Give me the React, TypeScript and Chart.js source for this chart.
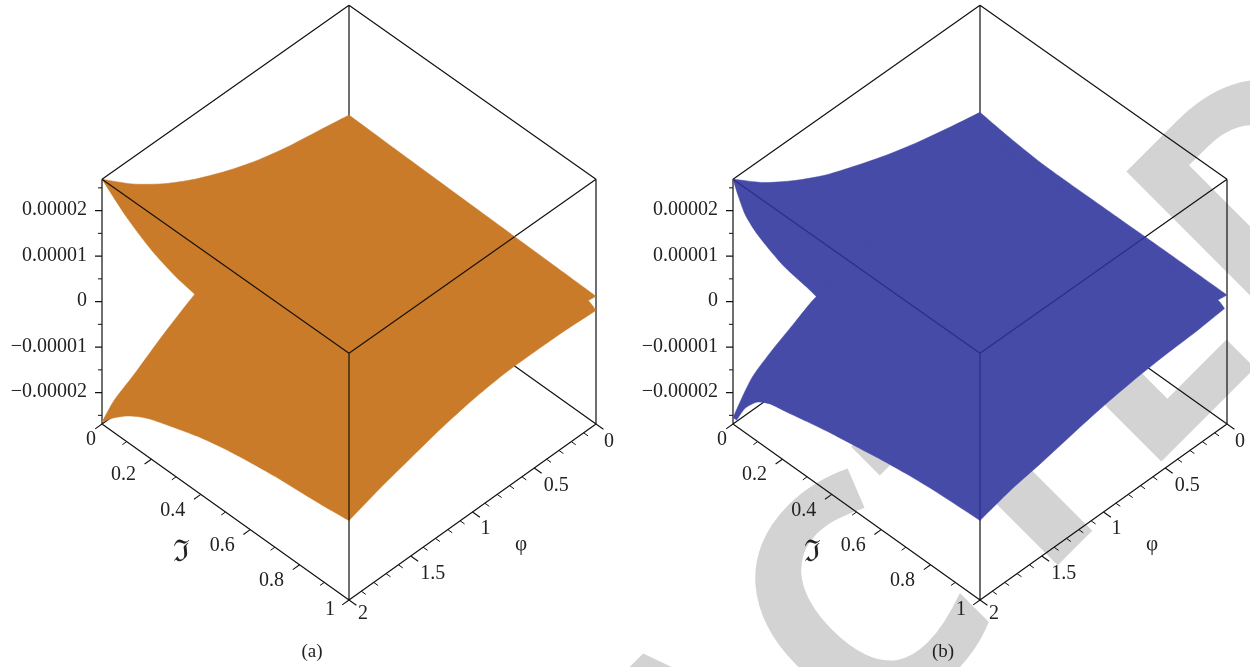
import React, { useEffect, useRef } from "react";
import { Chart, registerables } from "chart.js";

Chart.register(...registerables);

// All surface heights are in units of 1e-5. Pairs are [parameter, height].
const zTop = 2.69;
const zBottom = -2.69;
const zMajorTicks = [-2, -1, 0, 1, 2];
const zMinorTicks = [-2.5, -1.5, -0.5, 0.5, 1.5, 2.5];
const zTickLabels = ["\u22120.00002", "\u22120.00001", "0", "0.00001", "0.00002"];
const iTicks = [0, 0.1, 0.2, 0.3, 0.4, 0.5, 0.6, 0.7, 0.8, 0.9, 1];
const iLabels = [["0", 0], ["0.2", 0.2], ["0.4", 0.4], ["0.6", 0.6], ["0.8", 0.8], ["1", 1]] as [string, number][];
const phiTicks = [0, 0.1, 0.2, 0.3, 0.4, 0.5, 0.6, 0.7, 0.8, 0.9, 1, 1.1, 1.2, 1.3, 1.4, 1.5, 1.6, 1.7, 1.8, 1.9, 2];
const phiLabels = [["0", 0], ["0.5", 0.5], ["1", 1], ["1.5", 1.5], ["2", 2]] as [string, number][];

// Panel (a): edges of the upper and the lower sheet
const aUpperAtI0 = [[2, 2.69], [1.75, 2.106], [1.5, 1.633], [1.25, 1.25], [1, 0.944], [0.75, 0.696], [0.5, 0.516], [0.25, 0.387], [0, 0.256]];
const aUpperAtPhi0 = [[0, 0.256], [0.25, 0.216], [0.5, 0.183], [0.75, 0.15], [1, 0.117]];
const aUpperAtPhi2 = [[1, 0.957], [0.75, 1.1], [0.5, 1.35], [0.376, 1.598], [0.3, 1.69], [0.2, 1.9], [0.1, 2.235], [0, 2.69]];
const aLowerAtPhi0 = [[0, -0.1], [0.97, -0.103], [1, -0.195]];
const aLowerAtI1 = [[0, -0.195], [0.25, -0.154], [0.5, -0.146], [0.75, -0.159], [1, -0.238], [1.25, -0.372], [1.5, -0.549], [1.75, -0.737], [2, -0.957]];
const aLowerAtPhi2 = [[1, -0.957], [0.9, -1.032], [0.8, -1.089], [0.7, -1.142], [0.6, -1.22], [0.5, -1.317], [0.4, -1.448], [0.3, -1.627], [0.2, -1.819], [0.15, -1.952], [0.1, -2.128], [0.05, -2.36], [0, -2.646]];
const aLowerAtI0 = [[2, -2.646], [1.9, -2.356], [1.75, -2.118], [1.5, -1.677], [1.25, -1.29], [1, -1.0], [0.75, -0.75], [0.5, -0.5], [0.25, -0.3], [0, -0.1]];

// Panel (b)
const bUpperAtI0 = [[2, 2.69], [1.75, 2.139], [1.5, 1.703], [1.25, 1.344], [1, 1.072], [0.75, 0.827], [0.5, 0.626], [0.25, 0.462], [0, 0.316]];
const bUpperAtPhi0 = [[0, 0.316], [0.1, 0.234], [0.25, 0.151], [0.5, 0.145], [0.75, 0.151], [1, 0.145]];
const bUpperAtPhi2 = [[1, 0.956], [0.75, 1.1], [0.5, 1.25], [0.35, 1.389], [0.3, 1.459], [0.2, 1.578], [0.1, 1.851], [0.05, 2.097], [0.02, 2.42], [0, 2.69]];
const bLowerAtPhi0 = [[0, -0.12], [0.965, -0.112], [0.99, -0.19]];
const bLowerAtI1 = [[0.02, -0.112], [0.25, -0.176], [0.5, -0.211], [0.75, -0.273], [1, -0.37], [1.25, -0.503], [1.5, -0.647], [1.75, -0.769], [2, -0.956]];
const bLowerAtPhi2 = [[1, -0.956], [0.9, -0.985], [0.8, -1.02], [0.7, -1.08], [0.6, -1.16], [0.5, -1.26], [0.4, -1.36], [0.3, -1.48], [0.2, -1.609], [0.15, -1.67], [0.1, -1.82], [0.05, -2.145], [0.015, -2.545]];
const bLowerAtI0 = [[2, -2.545], [1.85, -1.978], [1.7, -1.706], [1.5, -1.422], [1.35, -1.215], [1, -0.9], [0.75, -0.65], [0.5, -0.45], [0.25, -0.28], [0, -0.12]];

type Pt = { x: number; y: number };
const BREAK: Pt = { x: NaN, y: NaN };

const makeProjector = (cx: number) => (i: number, phi: number, z: number): Pt => ({
  x: cx + 247 * i - 123.5 * phi,
  y: 248 + 176 * i + 88 * phi - (z - zBottom) * 45.5 * (1 + 0.008 * (i + phi / 2 - 1)),
});

const panels = [
  {
    cx: 349, fill: "#C97B29", inner: "#1a1208", caption: "(a)",
    up: { i0: aUpperAtI0, p0: aUpperAtPhi0, p2: aUpperAtPhi2 },
    lo: { i0: aLowerAtI0, p0: aLowerAtPhi0, i1: aLowerAtI1, p2: aLowerAtPhi2 },
  },
  {
    cx: 980, fill: "#454BA7", inner: "#2F2A8C", caption: "(b)",
    up: { i0: bUpperAtI0, p0: bUpperAtPhi0, p2: bUpperAtPhi2 },
    lo: { i0: bLowerAtI0, p0: bLowerAtPhi0, i1: bLowerAtI1, p2: bLowerAtPhi2 },
  },
];

const lineDs = (data: Pt[], color: string, width: number) => ({
  data, borderColor: color, borderWidth: width, showLine: true, pointRadius: 0, fill: false, spanGaps: false,
});

// Repeats the end points of each edge so the smoothing keeps the sheet's corners sharp.
const joinEdges = (...edges: Pt[][]) =>
  edges.flatMap((e) => [e[0], ...e, e[e.length - 1]]);

function buildDatasets() {
  const back: any[] = [];
  const surfaces: any[] = [];
  const front: any[] = [];
  for (const pn of panels) {
    const P = makeProjector(pn.cx);
    const boxEdges: [number[], number[]][] = [
      [[0, 2, zTop], [0, 0, zTop]], [[0, 0, zTop], [1, 0, zTop]],
      [[0, 2, zTop], [1, 2, zTop]], [[1, 2, zTop], [1, 0, zTop]],
      [[0, 2, zTop], [0, 2, zBottom]], [[1, 0, zTop], [1, 0, zBottom]],
      [[1, 2, zTop], [1, 2, zBottom]], [[0, 0, zTop], [0, 0, zBottom]],
      [[0, 2, zBottom], [1, 2, zBottom]], [[1, 2, zBottom], [1, 0, zBottom]],
      [[0, 0, zBottom], [0, 2, zBottom]], [[0, 0, zBottom], [1, 0, zBottom]],
    ];
    const box: Pt[] = [];
    for (const [a, b] of boxEdges) box.push(P(a[0], a[1], a[2]), P(b[0], b[1], b[2]), BREAK);
    back.push(lineDs(box, "#111111", 1.2));

    const ticks: Pt[] = [];
    const minor: Pt[] = [];
    for (const t of iTicks) {
      const major = Math.round(t * 10) % 2 === 0;
      (major ? ticks : minor).push(P(t, 2, zBottom), P(t, major ? 2.055 : 2.035, zBottom), BREAK);
    }
    for (const t of phiTicks) {
      const major = Math.round(t * 10) % 5 === 0;
      (major ? ticks : minor).push(P(1, t, zBottom), P(major ? 1.03 : 1.018, t, zBottom), BREAK);
    }
    for (const z of zMajorTicks) {
      const a = P(0, 2, z);
      ticks.push(a, { x: a.x - 7, y: a.y }, BREAK);
    }
    for (const z of zMinorTicks) {
      const a = P(0, 2, z);
      minor.push(a, { x: a.x - 4, y: a.y }, BREAK);
    }
    back.push(lineDs(ticks, "#111111", 1.1), lineDs(minor, "#111111", 1));

    const toPts = {
      i0: (a: number[][]) => a.map(([phi, z]) => P(0, phi, z)),
      p0: (a: number[][]) => a.map(([i, z]) => P(i, 0, z)),
      p2: (a: number[][]) => a.map(([i, z]) => P(i, 2, z)),
      i1: (a: number[][]) => a.map(([phi, z]) => P(1, phi, z)),
    };
    const upper = joinEdges(toPts.i0(pn.up.i0), toPts.p0(pn.up.p0), toPts.p2(pn.up.p2));
    const lower = joinEdges(toPts.p0(pn.lo.p0), toPts.i1(pn.lo.i1), toPts.p2(pn.lo.p2), toPts.i0(pn.lo.i0));
    for (const shape of [upper, lower]) {
      surfaces.push({
        data: shape, showLine: true, pointRadius: 0, borderColor: pn.fill, borderWidth: 0.5,
        backgroundColor: pn.fill, fill: "shape", tension: 0.25,
      });
    }
    const lastLo = pn.lo.i1[pn.lo.i1.length - 1][1];
    front.push(
      lineDs(
        [P(0, 2, zTop), P(1, 2, zTop), P(1, 0.66, zTop), BREAK, P(1, 2, zTop), P(1, 2, lastLo)],
        pn.inner, 1.2
      )
    );
  }
  // Earlier datasets are drawn on top; order sets the stacking explicitly.
  const all = [...back, ...surfaces, ...front];
  all.forEach((d, k) => (d.order = all.length - k));
  return all;
}

const textPlugin = {
  id: "plotText",
  beforeDatasetsDraw(chart: any) {
    const ctx = chart.ctx;
    ctx.save();
    ctx.fillStyle = "#D3D3D3";
    ctx.font = 'bold 322px "Open Sans"';
    ctx.textBaseline = "alphabetic";
    ctx.textAlign = "left";
    ctx.translate(1075, 548);
    ctx.rotate(-Math.PI / 4);
    const lead = ctx.measureText("RETRAC").width + ctx.measureText("T").width / 2;
    ctx.fillText("RETRACTED", -lead, 0);
    ctx.restore();
  },
  afterDatasetsDraw(chart: any) {
    const ctx = chart.ctx;
    ctx.save();
    ctx.fillStyle = "#222222";
    ctx.textBaseline = "middle";
    const serif = '"Liberation Serif"';
    for (const pn of panels) {
      const P = makeProjector(pn.cx);
      ctx.font = `20px ${serif}`;
      ctx.textAlign = "right";
      zMajorTicks.forEach((z, k) => {
        const a = P(0, 2, z);
        ctx.fillText(zTickLabels[k], a.x - 15, a.y - 0.5);
      });
      ctx.textAlign = "center";
      for (const [s, i] of iLabels) {
        const a = P(i, 2, zBottom);
        const off = s === "0" ? [-11, 16] : s === "1" ? [-19, 10] : [-28, 16];
        ctx.fillText(s, a.x + off[0], a.y + off[1]);
      }
      for (const [s, phi] of phiLabels) {
        const a = P(1, phi, zBottom);
        const off = s === "0" ? [13, 18] : s === "2" ? [14, 14] : s === "1" ? [13, 17] : [22, 18];
        ctx.fillText(s, a.x + off[0], a.y + off[1]);
      }
      ctx.font = `21px ${serif}`;
      ctx.fillText("\u03C6", pn.cx + 172, 544);
      ctx.font = `19px ${serif}`;
      ctx.fillText(pn.caption, pn.cx - 37, 652);
      ctx.font = '30px "DejaVu Serif"';
      ctx.fillText("\u2111", pn.cx - 168, 553);
    }
    ctx.restore();
  },
};

export default function App() {
  const ref = useRef<HTMLCanvasElement>(null);
  useEffect(() => {
    document.body.style.margin = "0";
    const chart = new Chart(ref.current as HTMLCanvasElement, {
      type: "scatter",
      data: { datasets: buildDatasets() as any },
      options: {
        animation: false,
        responsive: false,
        events: [],
        layout: { padding: 0 },
        plugins: { legend: { display: false }, tooltip: { enabled: false } },
        scales: {
          x: { type: "linear", display: false, min: 0, max: 1250 },
          y: { type: "linear", display: false, min: 0, max: 667, reverse: true },
        },
      },
      plugins: [textPlugin],
    } as any);
    return () => chart.destroy();
  }, []);
  return <canvas ref={ref} width={1250} height={667} style={{ display: "block" }} />;
}
